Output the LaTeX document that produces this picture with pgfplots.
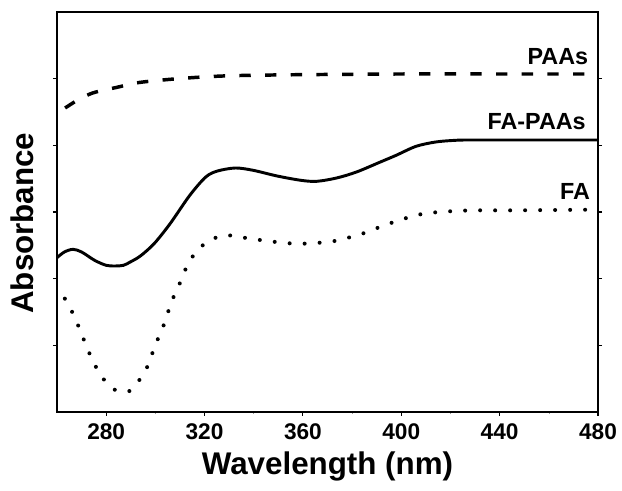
\documentclass[border=0pt]{standalone}
\usepackage{pgfplots}
\pgfplotsset{compat=1.18}
\usepackage{fontspec}
\setmainfont{Liberation Sans}

\begin{document}
\begin{tikzpicture}
\begin{axis}[
    scale only axis,
    width=405.75pt, height=300pt,
    xmin=260, xmax=480,
    ymin=0, ymax=6,
    xtick={280,320,...,480},
    minor x tick num=1,
    ytick={1,2,3,4,5},
    yticklabels={},
    xtick pos=bottom,
    tick align=outside,
    major tick length=3pt,
    minor tick length=1.5pt,
    tick style={black, line width=0.8pt},
    minor tick style={line width=0.4pt, black!40},
    axis line style={line width=1.5pt},
    /pgf/number format/assume math mode=true,
    ticklabel style={font=\fontsize{17}{19}\selectfont\bfseries},
    xticklabel style={yshift=-2pt},
    xlabel={Wavelength (nm)},
    ylabel={Absorbance},
    label style={font=\fontsize{23.5}{26}\selectfont\bfseries},
    xlabel style={at={(axis description cs:0.5,-0.1575)}, anchor=base},
    ylabel style={at={(axis description cs:-0.035,0.472)}, anchor=south},
    clip=false,
]
% PAAs (dashed)
\addplot[black, line width=2.6pt, dash pattern=on 8.5pt off 10.75pt, smooth] coordinates {
    (263.3,4.56) (268,4.67) (273.4,4.77) (278,4.82) (284.4,4.87) (290,4.92)
    (295,4.95) (306,4.99) (317,5.02) (327.5,5.04) (338.5,5.05) (360,5.06)
    (400,5.07) (440,5.07) (478,5.07)
};
% FA-PAAs (solid)
\addplot[black, line width=2.2pt, smooth] coordinates {
    (260,2.315) (263,2.40) (266.5,2.44) (270,2.40) (275.3,2.275) (280,2.20)
    (283.6,2.19) (287,2.20) (289.8,2.25) (293.9,2.34) (299.5,2.525)
    (306,2.825) (314,3.25) (320.5,3.525) (325.3,3.615) (332.6,3.66)
    (339.8,3.625) (349.5,3.54) (359.2,3.475) (365.6,3.46) (373.7,3.51)
    (381.8,3.6) (391.5,3.75) (397.9,3.85) (406,3.985) (414,4.05)
    (422,4.075) (430,4.08) (480,4.08)
};
% FA (dotted)
\addplot[black, line width=3pt, line cap=round, dash pattern=on 0pt off 11.25pt, smooth] coordinates {
    (263.2,1.70) (266.5,1.475) (269.7,1.2) (271.8,1.0) (274.5,0.775)
    (278.2,0.525) (283.4,0.335) (286.5,0.31) (289.5,0.315) (294.4,0.525)
    (297.6,0.75) (299.8,1.0) (302.4,1.2) (304.7,1.45) (307.1,1.7)
    (310,1.935) (312.7,2.175) (316.5,2.4) (322,2.575) (328.5,2.65)
    (334.2,2.625) (341.5,2.585) (352.7,2.535) (360,2.525) (365.6,2.535)
    (372.9,2.565) (378.5,2.615) (384.2,2.675) (390.6,2.765) (397,2.85)
    (403.5,2.925) (409.2,2.975) (415.6,3.0) (422,3.015) (430,3.025)
    (446,3.025) (479,3.035)
};
\node[anchor=base east, font=\fontsize{17.5}{19}\selectfont\bfseries, inner sep=0pt] at (axis cs:476.1,5.205) {PAAs};
\node[anchor=base east, font=\fontsize{17.5}{19}\selectfont\bfseries, inner sep=0pt] at (axis cs:475.1,4.24) {FA-PAAs};
\node[anchor=base east, font=\fontsize{17.5}{19}\selectfont\bfseries, inner sep=0pt] at (axis cs:476.8,3.19) {FA};
\end{axis}
\path (-42.75pt,-59.25pt) rectangle (423.75pt,309pt);
\end{tikzpicture}
\end{document}
